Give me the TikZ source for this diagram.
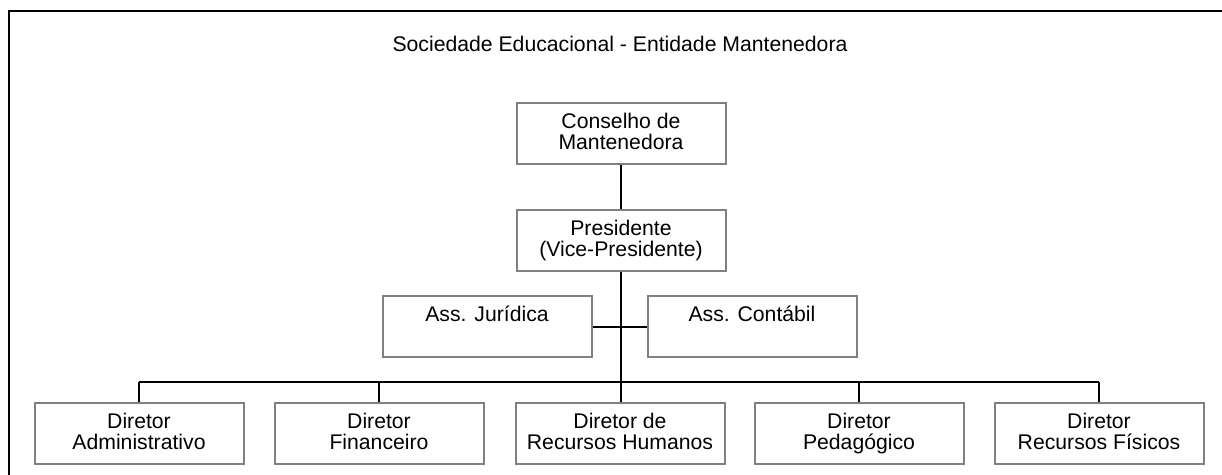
\documentclass[tikz,border=0pt]{standalone}
\usepackage{fontspec}
\setmainfont{Liberation Sans}
\usepackage{tikz}

\begin{document}
\begin{tikzpicture}[x=0.5pt,y=-0.5pt,
		cargo/.style={draw=gray,line width=1pt,rectangle,minimum width=104.5pt,minimum height=30.5pt,align=center,inner sep=0pt,font=\fontsize{10.6}{10.6}\selectfont,
			execute at begin node={\rule{0pt}{8.2pt}},execute at end node={\rule[-2.4pt]{0pt}{0pt}}},
		liga/.style={draw=black,line width=1pt},
		texto/.style={font=\fontsize{10.6}{10.6}\selectfont}]
		\useasboundingbox (0,0) rectangle (1222,475);
		\draw[line width=1pt] (1240,11) -- (9,11) -- (9,490);

		\node[texto] (titulo) at ( 620,  44) {Sociedade Educacional - Entidade Mantenedora};

		\node[cargo] (conselho) at ( 621, 134) {Conselho de\\Mantenedora};
		\node[cargo] (pres)     at ( 621, 241) {Presidente\\(Vice-Presidente)};

		\node[cargo] (jur)      at ( 487, 327) {Ass. Jurídica\\\strut};
		\node[cargo] (cont)     at ( 752, 327) {Ass. Contábil\\\strut};

		\node[cargo] (dir1)     at ( 139, 434) {Diretor\\Administrativo};
		\node[cargo] (dir2)     at ( 379, 434) {Diretor\\Financeiro};
		\node[cargo] (dir3)     at ( 620, 434) {Diretor de\\Recursos Humanos};
		\node[cargo] (dir4)     at ( 859, 434) {Diretor\\Pedagógico};
		\node[cargo] (dir5)     at (1099, 434) {Diretor\\Recursos Físicos};

		\coordinate (barra) at (620, 382);

		\draw[liga] (conselho.south) -- (pres.south |- conselho.south) -- (pres.north);
		\draw[liga] (pres.south) -- (pres.south |- dir3.north);
		\draw[liga] (jur.east) -- (cont.west);
		\draw[liga] (dir1.north |- barra) -- (dir5.north |- barra);
		\foreach \d in {dir1,dir2,dir4,dir5}
			\draw[liga] (\d.north) -- (\d.north |- barra);
	\end{tikzpicture}
\end{document}
